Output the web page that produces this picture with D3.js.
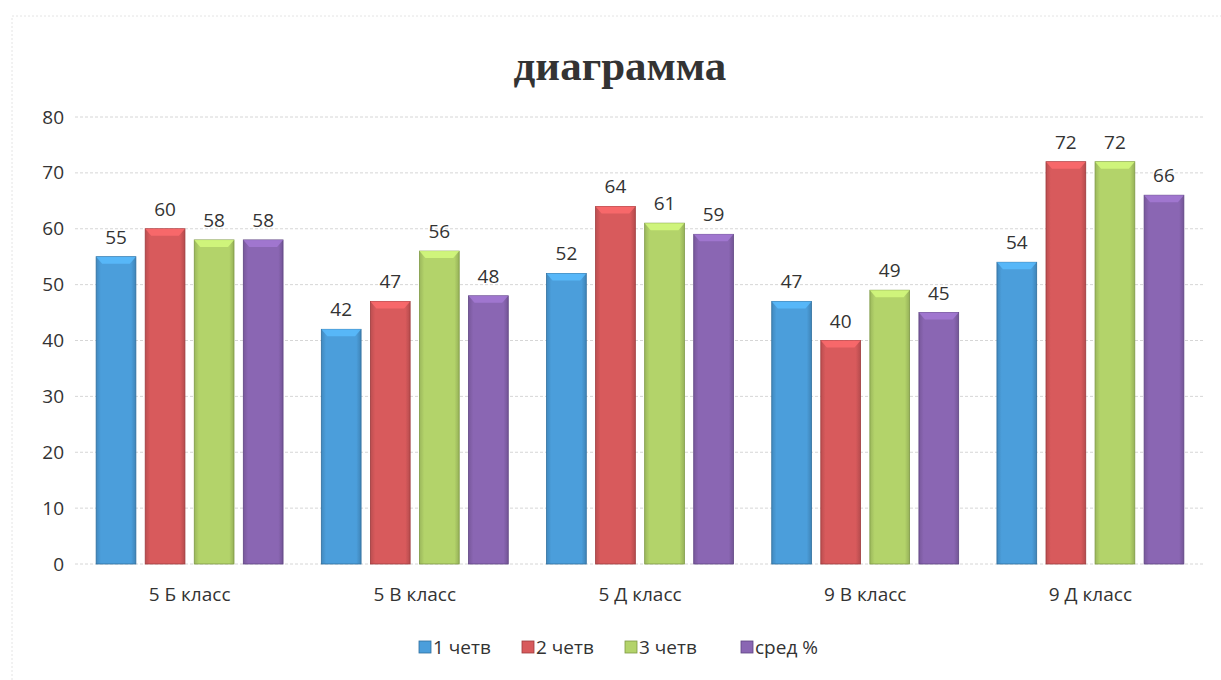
<!DOCTYPE html>
<html><head><meta charset="utf-8">
<script src="https://cdn.jsdelivr.net/npm/d3@7"></script>
<style>body{margin:0;background:#fff}svg{display:block}</style>
</head><body>
<script>
const categories = ["5 Б класс","5 В класс","5 Д класс","9 В класс","9 Д класс"];
const seriesNames = ["1 четв","2 четв","3 четв","сред %"];
const q1 = [55,42,52,47,54];
const q2 = [60,47,64,40,72];
const q3 = [58,56,61,49,72];
const avg = [58,48,59,45,66];
const yTicks = [0,10,20,30,40,50,60,70,80];
const colors = ["#4b9edb","#d85a5c","#b3d36a","#8a66b3"];
const strokes = ["#2f6e9e","#9e3a3c","#7e9a44","#5e4482"];
const series = [q1,q2,q3,avg];

const W=1221,H=680;
const svg=d3.select("body").append("svg").attr("width",W).attr("height",H);
svg.append("rect").attr("x",12).attr("y",16).attr("width",1240).attr("height",700)
  .attr("fill","none").attr("stroke","#e4e4e4").attr("stroke-dasharray","2,2");

const defs=svg.append("defs");
colors.forEach((c,i)=>{
  const g=defs.append("linearGradient").attr("id","g"+i).attr("x1","0").attr("x2","1").attr("y1","0").attr("y2","0");
  g.append("stop").attr("offset","0").attr("stop-color",d3.color(c).darker(0.4));
  g.append("stop").attr("offset","0.12").attr("stop-color",c);
  g.append("stop").attr("offset","0.88").attr("stop-color",c);
  g.append("stop").attr("offset","1").attr("stop-color",d3.color(c).darker(0.5));
});

const x0=d3.scaleBand().domain(categories).range([77,1203]).paddingInner(0.17).paddingOuter(0.085);
const x1=d3.scaleBand().domain(seriesNames).range([0,x0.bandwidth()]).paddingInner(0.19);
const y=d3.scaleLinear().domain([0,80]).range([564,117]);
const font="Open Sans, sans-serif";

// gridlines
svg.append("g").selectAll("line").data(yTicks).join("line")
  .attr("x1",75).attr("x2",1205).attr("y1",d=>y(d)).attr("y2",d=>y(d))
  .attr("stroke","#d6d6d6").attr("stroke-dasharray","3,2").attr("stroke-width",1);

// y axis
const ya=svg.append("g").attr("transform","translate(68,0)")
  .call(d3.axisLeft(y).tickValues(yTicks).tickSize(0).tickPadding(4));
ya.select(".domain").remove();
ya.selectAll("text").attr("font-family",font).attr("font-size",19).attr("fill","#333");

// x axis labels
const xa=svg.append("g").attr("transform","translate(0,564)")
  .call(d3.axisBottom(x0).tickSize(0).tickPadding(24));
xa.select(".domain").remove();
xa.selectAll("text").attr("font-family",font).attr("font-size",19).attr("fill","#333");

// bars
const gs=svg.append("g").selectAll("g").data(categories).join("g")
  .attr("transform",d=>`translate(${x0(d)},0)`);
gs.each(function(cat,ci){
  const g=d3.select(this);
  seriesNames.forEach((s,si)=>{
    const v=series[si][ci];
    const bx=x1(s), bw=x1.bandwidth();
    g.append("rect").attr("x",bx).attr("y",y(v)).attr("width",bw).attr("height",y(0)-y(v))
      .attr("fill",`url(#g${si})`).attr("stroke",strokes[si]).attr("stroke-width",0.8);
    g.append("path").attr("d",`M${bx},${y(v)} L${bx+bw},${y(v)} L${bx+bw-6},${y(v)+7} L${bx+6},${y(v)+7} Z`)
      .attr("fill",d3.color(colors[si]).brighter(0.5)).attr("opacity",0.8);
    g.append("text").attr("x",bx+bw/2).attr("y",y(v)-13).attr("text-anchor","middle")
      .attr("font-family",font).attr("font-size",19).attr("fill","#333").text(v);
  });
});

// title
svg.append("text").attr("x",620).attr("y",80).attr("text-anchor","middle")
  .attr("font-family","Liberation Serif, serif").attr("font-weight","bold").attr("font-size",43).attr("fill","#333")
  .text("диаграмма");

// legend
const legX=[419,522,625,741];
const lg=svg.append("g").selectAll("g").data(seriesNames).join("g")
  .attr("transform",(d,i)=>`translate(${legX[i]},648)`);
lg.append("rect").attr("x",0).attr("y",-7).attr("width",12).attr("height",12)
  .attr("fill",(d,i)=>colors[i]).attr("stroke",(d,i)=>strokes[i]).attr("stroke-width",0.8);
lg.append("text").attr("x",14).attr("y",6).attr("font-family",font).attr("font-size",19)
  .attr("fill","#333").text(d=>d);
</script>
</body></html>
